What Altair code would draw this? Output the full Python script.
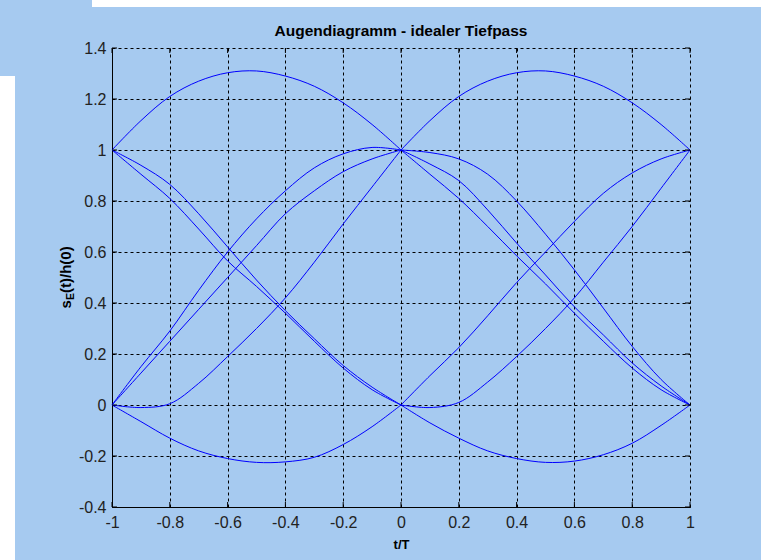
import altair as alt
import pandas as pd

# ---------------- data ----------------
T_LEFT = [-1.0, -0.9, -0.8, -0.7, -0.6, -0.5, -0.4, -0.3, -0.2, -0.1, 0.0]
T_RIGHT = [0.0, 0.1, 0.2, 0.3, 0.4, 0.5, 0.6, 0.7, 0.8, 0.9, 1.0]

# left half segments (t from -1 to 0)
LEFT_PEAK = [1.0, 1.115, 1.21, 1.27, 1.303, 1.31, 1.29, 1.25, 1.185, 1.10, 1.0]
LEFT_DIP = [0.0, -0.065, -0.13, -0.18, -0.21, -0.225, -0.223, -0.205, -0.155, -0.085, 0.0]
LEFT_RISE_SLOW = [0.0, -0.01, 0.005, 0.085, 0.19, 0.30, 0.42, 0.56, 0.71, 0.855, 1.0]
LEFT_RISE_A = [0.0, 0.15, 0.29, 0.45, 0.60, 0.73, 0.84, 0.93, 0.985, 1.01, 1.0]
LEFT_RISE_B = [0.0, 0.125, 0.25, 0.375, 0.50, 0.625, 0.75, 0.84, 0.915, 0.965, 1.0]
LEFT_FALL_A = [1.0, 0.94, 0.865, 0.75, 0.62, 0.49, 0.37, 0.26, 0.155, 0.07, 0.0]
LEFT_FALL_B = [1.0, 0.905, 0.81, 0.69, 0.565, 0.465, 0.36, 0.25, 0.145, 0.06, 0.0]

# right half segments (t from 0 to 1)
RIGHT_PEAK = [1.0, 1.115, 1.21, 1.27, 1.303, 1.31, 1.29, 1.25, 1.185, 1.10, 1.0]
RIGHT_DIP = [0.0, -0.07, -0.13, -0.18, -0.21, -0.225, -0.22, -0.195, -0.15, -0.08, 0.0]
RIGHT_RISE_SLOW = [0.0, -0.01, 0.01, 0.09, 0.19, 0.30, 0.42, 0.56, 0.70, 0.85, 1.0]
RIGHT_RISE = [0.0, 0.115, 0.225, 0.35, 0.48, 0.60, 0.72, 0.83, 0.91, 0.965, 1.0]
RIGHT_FALL_A = [1.0, 0.945, 0.88, 0.765, 0.635, 0.51, 0.385, 0.275, 0.165, 0.075, 0.0]
RIGHT_FALL_B = [1.0, 0.905, 0.81, 0.70, 0.585, 0.475, 0.36, 0.25, 0.145, 0.06, 0.0]
RIGHT_FALL_FLAT = [1.0, 0.99, 0.965, 0.905, 0.80, 0.67, 0.53, 0.38, 0.23, 0.10, 0.0]

X_TICKS = [-1.0, -0.8, -0.6, -0.4, -0.2, 0.0, 0.2, 0.4, 0.6, 0.8, 1.0]
Y_TICKS = [-0.4, -0.2, 0.0, 0.2, 0.4, 0.6, 0.8, 1.0, 1.2, 1.4]

TITLE = "Augendiagramm - idealer Tiefpass"
X_TITLE = "t/T"

# ---------------- build table ----------------
rows = []
left = {"LP": LEFT_PEAK, "LD": LEFT_DIP, "LRS": LEFT_RISE_SLOW, "LRA": LEFT_RISE_A,
        "LRB": LEFT_RISE_B, "LFA": LEFT_FALL_A, "LFB": LEFT_FALL_B}
right = {"RP": RIGHT_PEAK, "RD": RIGHT_DIP, "RRS": RIGHT_RISE_SLOW, "RR": RIGHT_RISE,
         "RFA": RIGHT_FALL_A, "RFB": RIGHT_FALL_B, "RFF": RIGHT_FALL_FLAT}
for name, vals in left.items():
    for t, v in zip(T_LEFT, vals):
        rows.append({"curve": name, "t": t, "y": v})
for name, vals in right.items():
    for t, v in zip(T_RIGHT, vals):
        rows.append({"curve": name, "t": t, "y": v})
df = pd.DataFrame(rows)

W, H = 578, 459
BG = "#A6CAF0"
FONT = "Liberation Sans"

xscale = alt.Scale(domain=[-1, 1], nice=False, zero=False)
yscale = alt.Scale(domain=[-0.4, 1.4], nice=False, zero=False)

xaxis = alt.Axis(values=X_TICKS, labelExpr="'' + datum.value", grid=True,
                 gridColor="black", gridDash=[3, 3], gridWidth=1, gridOpacity=1,
                 ticks=False, domainColor="black", domainWidth=1,
                 labelFont=FONT, labelFontSize=16, labelColor="#222222",
                 labelPadding=7, labelFlush=False,
                 title=X_TITLE, titleFont=FONT, titleFontSize=13,
                 titleFontWeight="bold", titleColor="black", titlePadding=8)
yaxis = alt.Axis(values=Y_TICKS, labelExpr="'' + datum.value", grid=True,
                 gridColor="black", gridDash=[3, 3], gridWidth=1, gridOpacity=1,
                 ticks=False, domainColor="black", domainWidth=1,
                 labelFont=FONT, labelFontSize=16, labelColor="#222222",
                 labelPadding=6, labelFlush=False, title=None)

lines = alt.Chart(df).mark_line(color="#0000FF", strokeWidth=1, interpolate="catmull-rom").encode(
    x=alt.X("t:Q", scale=xscale, axis=xaxis),
    y=alt.Y("y:Q", scale=yscale, axis=yaxis),
    detail="curve:N",
)

xt = pd.DataFrame({"t": X_TICKS})
yt = pd.DataFrame({"y": Y_TICKS})
tick_b = alt.Chart(xt).mark_rule(color="black").encode(
    x=alt.X("t:Q", scale=xscale), y=alt.value(H), y2=alt.value(H - 5))
tick_t = alt.Chart(xt).mark_rule(color="black").encode(
    x=alt.X("t:Q", scale=xscale), y=alt.value(0), y2=alt.value(5))
tick_l = alt.Chart(yt).mark_rule(color="black").encode(
    y=alt.Y("y:Q", scale=yscale), x=alt.value(0), x2=alt.value(5))
tick_r = alt.Chart(yt).mark_rule(color="black").encode(
    y=alt.Y("y:Q", scale=yscale), x=alt.value(W), x2=alt.value(W - 5))

one = pd.DataFrame({"k": [0]})
# chart title as text
ttl = alt.Chart(one).mark_text(text=TITLE, align="center", baseline="middle",
                               font=FONT, fontSize=15.5, fontWeight="bold", color="black").encode(
    x=alt.value(W / 2), y=alt.value(-17))
# y-axis title with subscript E (centred on the plot height)
ys = alt.Chart(one).mark_text(text="s", angle=270, align="left", baseline="middle",
                              font=FONT, fontSize=15, fontWeight="bold", color="black").encode(
    x=alt.value(-46), y=alt.value(H / 2 + 31))
ye = alt.Chart(one).mark_text(text="E", angle=270, align="left", baseline="middle",
                              font=FONT, fontSize=10.5, fontWeight="bold", color="black").encode(
    x=alt.value(-41), y=alt.value(H / 2 + 22.5))
yr = alt.Chart(one).mark_text(text="(t)/h(0)", angle=270, align="left", baseline="middle",
                              font=FONT, fontSize=15, fontWeight="bold", color="black").encode(
    x=alt.value(-46), y=alt.value(H / 2 + 15.5))

# white screenshot borders
wtop = alt.Chart(one).mark_rect(color="white").encode(
    x=alt.value(-20), x2=alt.value(649), y=alt.value(-48), y2=alt.value(-41))
wleft = alt.Chart(one).mark_rect(color="white").encode(
    x=alt.value(-112), x2=alt.value(-97), y=alt.value(28), y2=alt.value(512))

chart = alt.layer(lines, tick_b, tick_t, tick_l, tick_r, ttl, ys, ye, yr, wtop, wleft).properties(
    width=W, height=H,
    autosize=alt.AutoSizeParams(type="none"),
    padding={"left": 112, "top": 48, "right": 71, "bottom": 53},
    background=BG,
).configure_view(stroke=None)

chart.save("out.html", embed_options={"renderer": "svg", "actions": False})
